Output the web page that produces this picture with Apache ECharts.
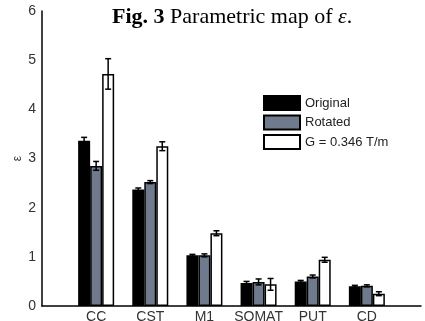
<!DOCTYPE html>
<html>
<head>
<meta charset="utf-8">
<script src="https://cdn.jsdelivr.net/npm/echarts@6/dist/echarts.min.js"></script>
<style>html,body{margin:0;padding:0;background:#fff}#c{width:425px;height:321px}</style>
</head>
<body>
<div id="c"></div>
<script>
const categories = ['CC', 'CST', 'M1', 'SOMAT', 'PUT', 'CD'];
const seriesNames = ['Original', 'Rotated', 'G = 0.346 T/m'];
const originalVals = [3.36, 2.37, 1.03, 0.47, 0.50, 0.40];
const originalErr  = [0.07, 0.03, 0.02, 0.03, 0.02, 0.02];
const rotatedVals  = [2.85, 2.52, 1.03, 0.49, 0.60, 0.41];
const rotatedErr   = [0.09, 0.03, 0.03, 0.06, 0.03, 0.02];
const gradVals     = [4.72, 3.25, 1.48, 0.44, 0.94, 0.25];
const gradErr      = [0.31, 0.09, 0.05, 0.12, 0.05, 0.04];
const yTicks = [0, 1, 2, 3, 4, 5, 6];

const chart = echarts.init(document.getElementById('c'), null, {renderer: 'canvas'});
const vals = [originalVals, rotatedVals, gradVals];
const errs = [originalErr, rotatedErr, gradErr];
const fills = ['#000000', '#6f7a8d', '#ffffff'];
const barW = 12;
const offsets = [-barW, 0, barW];

const barSeries = seriesNames.map((name, s) => ({
  name: name,
  type: 'bar',
  barWidth: barW,
  barGap: '0%',
  itemStyle: {color: fills[s], borderColor: '#000', borderWidth: 1.5},
  data: vals[s].map((v, i) => [i + 1, v]),
  z: 2
}));

const errSeries = seriesNames.map((name, s) => ({
  type: 'custom',
  z: 5,
  silent: true,
  data: vals[s].map((v, i) => [i + 1, v, errs[s][i]]),
  renderItem: function (params, api) {
    const x = api.value(0), v = api.value(1), e = api.value(2);
    const top = api.coord([x, v + e]);
    const bot = api.coord([x, v - e]);
    const cx = top[0] + offsets[s];
    const cap = 3;
    const st = {stroke: '#000', lineWidth: 1.5, fill: null};
    return {
      type: 'group',
      children: [
        {type: 'line', shape: {x1: cx, y1: top[1], x2: cx, y2: bot[1]}, style: st},
        {type: 'line', shape: {x1: cx - cap, y1: top[1], x2: cx + cap, y2: top[1]}, style: st},
        {type: 'line', shape: {x1: cx - cap, y1: bot[1], x2: cx + cap, y2: bot[1]}, style: st}
      ]
    };
  }
}));

chart.setOption({
  animation: false,
  backgroundColor: '#fff',
  title: {
    text: '{b|Fig. 3} Parametric map of {i|ε}.',
    left: 112,
    top: 6,
    padding: 0,
    textStyle: {
      fontFamily: 'Liberation Serif',
      fontSize: 22,
      fontWeight: 'normal',
      color: '#000',
      rich: {
        b: {fontFamily: 'Liberation Serif', fontSize: 22, fontWeight: 'bold', color: '#000'},
        i: {fontFamily: 'Liberation Serif', fontSize: 22, fontStyle: 'italic', color: '#000'}
      }
    }
  },
  legend: {
    data: seriesNames,
    orient: 'vertical',
    left: 263,
    top: 95,
    icon: 'rect',
    itemWidth: 36,
    itemHeight: 14,
    itemGap: 3.5,
    padding: 0,
    selectedMode: false,
    textStyle: {fontFamily: 'Liberation Sans', fontSize: 13, color: '#222', padding: [0, 0, 0, 0]}
  },
  grid: {left: 42, right: 4, top: 11, bottom: 15, containLabel: false, outerBoundsMode: 'none'},
  xAxis: {
    type: 'value',
    min: 0,
    max: 7,
    interval: 1,
    axisLine: {show: true, lineStyle: {color: '#000', width: 1.5}},
    axisTick: {show: false},
    splitLine: {show: false},
    axisLabel: {
      margin: 4,
      fontFamily: 'Liberation Sans',
      fontSize: 14,
      color: '#333',
      showMinLabel: true,
      showMaxLabel: true,
      formatter: function (v) { return categories[v - 1] || ''; }
    }
  },
  yAxis: {
    type: 'value',
    min: yTicks[0],
    max: yTicks[yTicks.length - 1],
    interval: 1,
    name: 'ε',
    nameLocation: 'middle',
    nameGap: 18,
    nameMoveOverlap: false,
    nameRotate: 90,
    nameTextStyle: {fontFamily: 'Liberation Sans', fontSize: 12, color: '#333'},
    axisLine: {show: true, lineStyle: {color: '#000', width: 1.5}},
    axisTick: {show: false},
    splitLine: {show: false},
    axisLabel: {margin: 6, fontFamily: 'Liberation Sans', fontSize: 14, color: '#333'}
  },
  series: barSeries.concat(errSeries)
});
</script>
</body>
</html>
